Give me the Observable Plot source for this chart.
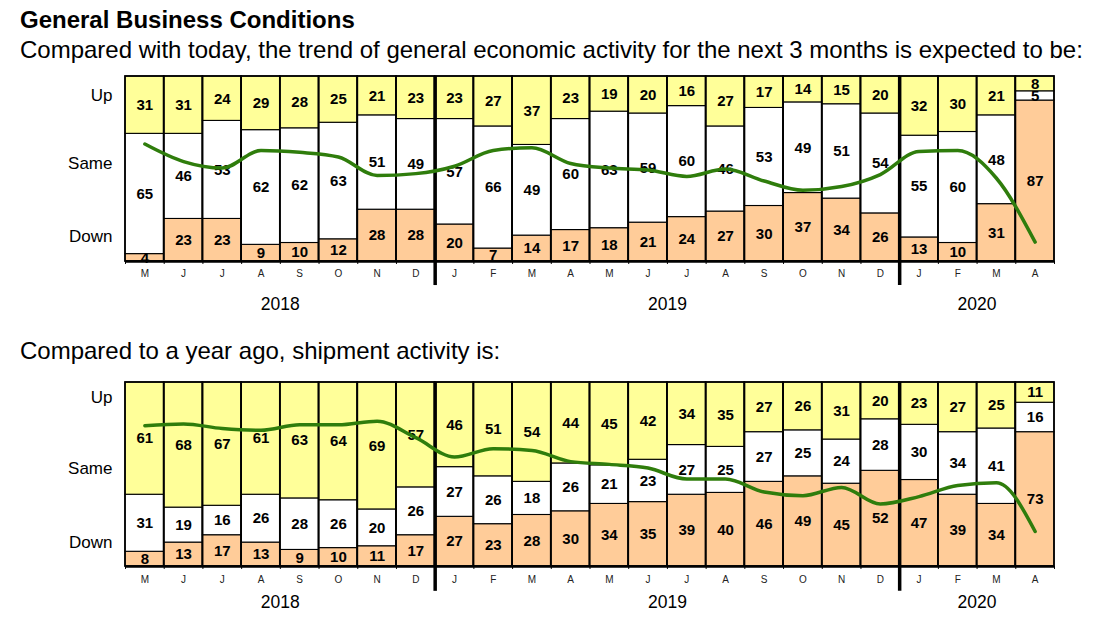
<!DOCTYPE html>
<html>
<head>
<meta charset="utf-8">
<script src="https://cdn.jsdelivr.net/npm/d3@7"></script>
<script src="https://cdn.jsdelivr.net/npm/@observablehq/plot@0.6"></script>
<style>
  body { margin: 0; background: #fff; font-family: "Liberation Sans", Arial, sans-serif; }
  .t { position: absolute; left: 20px; line-height: 1; color: #000; white-space: nowrap; }
  .panel { position: absolute; left: 0; }
</style>
</head>
<body>
<div class="t" style="top:8px;font-weight:bold;font-size:24px;">General Business Conditions</div>
<div class="t" style="top:38px;font-size:24px;">Compared with today, the trend of general economic activity for the next 3 months is expected to be:</div>
<div class="t" style="top:339px;font-size:24px;">Compared to a year ago, shipment activity is:</div>
<div id="p1" class="panel" style="top:66px;"></div>
<div id="p2" class="panel" style="top:372px;"></div>
<script>
// ---- data ----
const months = ["M","J","J","A","S","O","N","D","J","F","M","A","M","J","J","A","S","O","N","D","J","F","M","A"];
const years = ["2018", "2019", "2020"];
const yearMonthCounts = [8, 12, 4];
const levels = ["Up", "Same", "Down"];

// General economic activity, next 3 months
const gbcUp   = [31,31,24,29,28,25,21,23, 23,27,37,23,19,20,16,27,17,14,15,20, 32,30,21,8];
const gbcSame = [65,46,53,62,62,63,51,49, 57,66,49,60,63,59,60,46,53,49,51,54, 55,60,48,5];
const gbcDown = [4,23,23,9,10,12,28,28, 20,7,14,17,18,21,24,27,30,37,34,26, 13,10,31,87];
const gbcIndex = [63.5,54,50.5,60,59,56.5,46.5,47.5, 51.5,60,61.5,53,50.5,49.5,46,50,43.5,38.5,40.5,47, 59.5,60,45,10.5];

// Shipment activity vs a year ago
const shipUp   = [61,68,67,61,63,64,69,57, 46,51,54,44,45,42,34,35,27,26,31,20, 23,27,25,11];
const shipSame = [31,19,16,26,28,26,20,26, 27,26,18,26,21,23,27,25,27,25,24,28, 30,34,41,16];
const shipDown = [8,13,17,13,9,10,11,17, 27,23,28,30,34,35,39,40,46,49,45,52, 47,39,34,73];
const shipIndex = [76.5,77.5,75,74,77,77,79,70, 59.5,64,63,57,55.5,53.5,47.5,47.5,40.5,38.5,43,34, 38,44,45.5,19];

// ---- styling ----
const FONT = '"Liberation Sans", Arial, sans-serif';
const colorRange = ["#FFFF99", "#FFFFFF", "#FFCC99"];

function panel(up, same, down, index, o) {
  const segs = [];
  months.forEach((m, i) => {
    segs.push({i, key: "Down", y1: 0, y2: down[i], v: down[i]});
    segs.push({i, key: "Same", y1: down[i], y2: down[i] + same[i], v: same[i]});
    segs.push({i, key: "Up", y1: down[i] + same[i], y2: 100, v: up[i]});
  });
  const idx = months.map((m, i) => i);
  const line = idx.map(i => ({x: i + 0.5, y: index[i]}));
  const yearData = [];
  let start = 0;
  years.forEach((y, k) => {
    yearData.push({x: start + yearMonthCounts[k] / 2, label: y, start});
    start += yearMonthCounts[k];
  });
  const seps = yearData.slice(1).map(d => d.start);
  const yl = levels.map((l, k) => ({label: l, y: o.labelY[k]}));

  return Plot.plot({
    width: 1101,
    height: o.height,
    marginLeft: 125,
    marginRight: 47,
    marginTop: 10,
    marginBottom: o.marginBottom,
    style: {fontFamily: FONT, background: "white", overflow: "visible"},
    x: {domain: [0, 24], axis: null},
    y: {domain: [0, 100], axis: null},
    color: {domain: levels, range: colorRange},
    marks: [
      Plot.rect(segs, {x1: d => d.i, x2: d => d.i + 1, y1: "y1", y2: "y2", fill: "key", stroke: "#000", strokeWidth: 1.1}),
      Plot.rect(idx, {x1: d => d, x2: d => d + 1, y1: 0, y2: 100, fill: "none", stroke: "#000", strokeWidth: 1.7}),
      Plot.ruleY([0], {stroke: "#000", strokeWidth: 2.5}),
      Plot.ruleX(d3.range(25), {y1: 0, y2: -1.6, stroke: "#000", strokeWidth: 1}),
      Plot.ruleX(seps, {y1: o.sepBottom, y2: 100, stroke: "#000", strokeWidth: 3.5}),
      Plot.text(segs, {x: d => d.i + 0.5, y: d => (d.y1 + d.y2) / 2, text: d => String(d.v), fontSize: 15, fontWeight: "bold", fill: "#000"}),
      Plot.line(line, {x: "x", y: "y", stroke: "#2f7d0c", strokeWidth: 3.5, curve: "monotone-x"}),
      Plot.text(idx, {x: d => d + 0.5, text: d => months[d], frameAnchor: "bottom", lineAnchor: "middle", dy: o.monthDy, fontSize: 10, fill: "#222"}),
      Plot.text(yearData, {x: "x", text: "label", frameAnchor: "bottom", lineAnchor: "middle", dy: o.yearDy, fontSize: 17.5, fill: "#000"}),
      Plot.text(yl, {y: "y", text: "label", frameAnchor: "left", lineAnchor: "middle", dx: -13, textAnchor: "end", fontSize: 17, fill: "#000"})
    ]
  });
}

document.getElementById("p1").append(panel(gbcUp, gbcSame, gbcDown, gbcIndex,
  {height: 245, marginBottom: 50, monthDy: 12, yearDy: 43, sepBottom: -13, labelY: [89.5, 53, 13.5]}));
document.getElementById("p2").append(panel(shipUp, shipSame, shipDown, shipIndex,
  {height: 240, marginBottom: 46, monthDy: 13, yearDy: 36, sepBottom: -13.5, labelY: [92, 53, 13]}));
</script>
</body>
</html>
